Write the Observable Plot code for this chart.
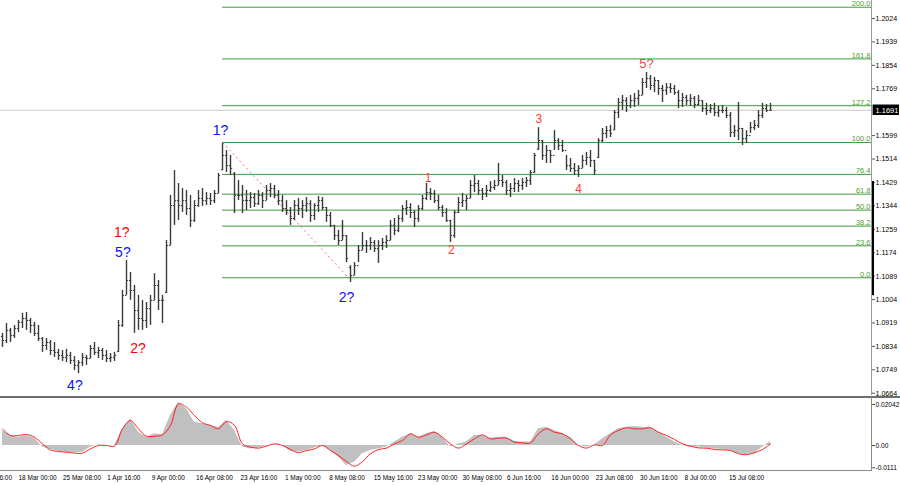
<!DOCTYPE html>
<html><head><meta charset="utf-8">
<script src="https://cdn.jsdelivr.net/npm/d3@7"></script>
<script src="https://cdn.jsdelivr.net/npm/@observablehq/plot@0.6"></script>
<style>
body{margin:0;background:#fff;}
#wrap{position:relative;width:900px;height:485px;overflow:hidden;background:#fff;}
#main,#sub{position:absolute;left:0;}
#main{top:0}#sub{top:397px}
.ln{position:absolute;}
</style></head><body>
<div id="wrap"><div id="sub"></div><div id="main"></div>
<div class="ln" style="left:871px;top:0;width:1px;height:395px;background:#9a9a9a"></div>
<div class="ln" style="left:0;top:396px;width:900px;height:2px;background:#6e6e6e"></div>
<div class="ln" style="left:871px;top:397px;width:1px;height:74px;background:#8a8a8a"></div>
<div class="ln" style="left:0;top:470px;width:872px;height:1px;background:#8a8a8a"></div>
</div>
<script>
// ---- price bars (sampled) ----
const barHigh = [
1.0881,1.0917,1.0899,1.0910,1.0928,1.0954,1.0957,1.0935,1.0921,1.0910,
1.0866,1.0863,1.0855,1.0848,1.0823,1.0819,1.0823,1.0812,1.0797,1.0783,
1.0808,1.0801,1.0837,1.0848,1.0830,1.0826,1.0819,1.0808,1.0812,1.0928,
1.1037,1.1146,1.1102,1.1055,1.1019,1.1001,1.0993,1.1019,1.1098,1.1073,
1.1019,1.1218,1.1382,1.1472,1.1425,1.1407,1.1400,1.1382,1.1363,1.1400,
1.1407,1.1392,1.1389,1.1400,1.1462,1.1570,1.1545,1.1527,1.1465,1.1436,
1.1418,1.1400,1.1392,1.1389,1.1400,1.1392,1.1418,1.1425,1.1418,1.1400,
1.1382,1.1363,1.1338,1.1363,1.1371,1.1363,1.1374,1.1363,1.1352,1.1378,
1.1374,1.1338,1.1320,1.1273,1.1255,1.1291,1.1236,1.1127,1.1138,1.1200,
1.1247,1.1218,1.1229,1.1218,1.1218,1.1226,1.1236,1.1291,1.1298,1.1309,
1.1345,1.1363,1.1352,1.1327,1.1345,1.1382,1.1425,1.1407,1.1400,1.1382,
1.1345,1.1334,1.1291,1.1327,1.1374,1.1389,1.1382,1.1436,1.1454,1.1436,
1.1407,1.1418,1.1432,1.1436,1.1498,1.1454,1.1436,1.1425,1.1443,1.1436,
1.1443,1.1447,1.1472,1.1534,1.1628,1.1581,1.1563,1.1545,1.1617,1.1588,
1.1581,1.1527,1.1516,1.1498,1.1490,1.1527,1.1538,1.1545,1.1509,1.1588,
1.1625,1.1632,1.1636,1.1690,1.1734,1.1745,1.1737,1.1745,1.1752,1.1763,
1.1806,1.1828,1.1817,1.1810,1.1799,1.1781,1.1788,1.1788,1.1781,1.1763,
1.1752,1.1745,1.1748,1.1741,1.1745,1.1726,1.1716,1.1712,1.1716,1.1705,
1.1708,1.1701,1.1683,1.1636,1.1719,1.1625,1.1617,1.1647,1.1654,1.1690,
1.1716,1.1712,1.1716];
const barLow = [
1.0830,1.0844,1.0848,1.0863,1.0884,1.0899,1.0892,1.0881,1.0870,1.0852,
1.0812,1.0819,1.0801,1.0794,1.0783,1.0779,1.0775,1.0768,1.0746,1.0735,
1.0761,1.0765,1.0790,1.0801,1.0790,1.0783,1.0775,1.0775,1.0779,1.0812,
1.0903,1.1019,1.1001,1.0881,1.0892,1.0892,1.0899,1.0910,1.1001,1.0964,
1.0917,1.1026,1.1200,1.1273,1.1291,1.1320,1.1309,1.1265,1.1284,1.1338,
1.1342,1.1345,1.1345,1.1352,1.1389,1.1472,1.1465,1.1454,1.1316,1.1363,
1.1316,1.1327,1.1334,1.1338,1.1345,1.1334,1.1363,1.1374,1.1371,1.1345,
1.1320,1.1309,1.1273,1.1291,1.1309,1.1298,1.1320,1.1284,1.1291,1.1320,
1.1327,1.1284,1.1265,1.1218,1.1200,1.1218,1.1138,1.1066,1.1091,1.1138,
1.1182,1.1171,1.1182,1.1175,1.1135,1.1182,1.1189,1.1218,1.1236,1.1247,
1.1284,1.1309,1.1298,1.1265,1.1284,1.1327,1.1363,1.1363,1.1352,1.1327,
1.1302,1.1284,1.1211,1.1226,1.1316,1.1338,1.1327,1.1371,1.1392,1.1382,
1.1363,1.1374,1.1392,1.1400,1.1418,1.1411,1.1382,1.1374,1.1392,1.1392,
1.1400,1.1411,1.1418,1.1462,1.1545,1.1509,1.1498,1.1498,1.1545,1.1545,
1.1538,1.1472,1.1465,1.1454,1.1447,1.1480,1.1490,1.1483,1.1454,1.1516,
1.1574,1.1588,1.1592,1.1617,1.1661,1.1690,1.1683,1.1697,1.1701,1.1708,
1.1745,1.1770,1.1763,1.1755,1.1745,1.1719,1.1745,1.1752,1.1745,1.1697,
1.1701,1.1708,1.1705,1.1697,1.1705,1.1683,1.1672,1.1679,1.1668,1.1665,
1.1679,1.1661,1.1592,1.1592,1.1581,1.1563,1.1570,1.1607,1.1617,1.1625,
1.1661,1.1683,1.1690];
const barOpen = [
1.0870,1.0855,1.0892,1.0873,1.0899,1.0921,1.0935,1.0928,1.0910,1.0881,
1.0863,1.0837,1.0848,1.0819,1.0812,1.0801,1.0794,1.0801,1.0783,1.0765,
1.0775,1.0794,1.0790,1.0826,1.0812,1.0819,1.0801,1.0790,1.0794,1.0815,
1.0910,1.1019,1.1073,1.1037,1.0964,1.0935,1.0928,1.0971,1.1001,1.1055,
1.1001,1.1030,1.1200,1.1345,1.1363,1.1345,1.1363,1.1334,1.1291,1.1345,
1.1371,1.1363,1.1371,1.1363,1.1389,1.1475,1.1527,1.1490,1.1460,1.1382,
1.1382,1.1363,1.1363,1.1374,1.1352,1.1382,1.1363,1.1400,1.1407,1.1382,
1.1363,1.1334,1.1327,1.1298,1.1345,1.1334,1.1345,1.1352,1.1309,1.1345,
1.1363,1.1338,1.1309,1.1273,1.1236,1.1218,1.1236,1.1120,1.1091,1.1127,
1.1182,1.1200,1.1200,1.1211,1.1189,1.1200,1.1211,1.1218,1.1273,1.1255,
1.1298,1.1334,1.1338,1.1320,1.1298,1.1334,1.1371,1.1392,1.1389,1.1363,
1.1338,1.1320,1.1291,1.1236,1.1320,1.1356,1.1363,1.1371,1.1418,1.1425,
1.1400,1.1389,1.1400,1.1411,1.1418,1.1436,1.1429,1.1400,1.1407,1.1425,
1.1418,1.1429,1.1436,1.1465,1.1550,1.1581,1.1527,1.1545,1.1527,1.1581,
1.1563,1.1545,1.1490,1.1480,1.1472,1.1480,1.1509,1.1520,1.1509,1.1520,
1.1581,1.1607,1.1617,1.1620,1.1683,1.1719,1.1726,1.1708,1.1726,1.1734,
1.1745,1.1792,1.1806,1.1781,1.1799,1.1770,1.1763,1.1774,1.1770,1.1755,
1.1726,1.1737,1.1726,1.1734,1.1712,1.1726,1.1697,1.1690,1.1697,1.1683,
1.1690,1.1690,1.1672,1.1610,1.1617,1.1625,1.1588,1.1599,1.1628,1.1636,
1.1672,1.1697,1.1690];
const barClose = [
1.0855,1.0892,1.0873,1.0899,1.0921,1.0935,1.0928,1.0910,1.0881,1.0863,
1.0837,1.0848,1.0819,1.0812,1.0801,1.0794,1.0801,1.0783,1.0765,1.0775,
1.0794,1.0790,1.0826,1.0812,1.0819,1.0801,1.0790,1.0794,1.0801,1.0910,
1.1019,1.1073,1.1037,1.0964,1.0935,1.0928,1.0971,1.1001,1.1055,1.1001,
1.1001,1.1200,1.1345,1.1363,1.1345,1.1363,1.1334,1.1291,1.1345,1.1371,
1.1363,1.1371,1.1363,1.1389,1.1454,1.1527,1.1490,1.1480,1.1382,1.1382,
1.1363,1.1363,1.1374,1.1352,1.1382,1.1363,1.1400,1.1407,1.1382,1.1363,
1.1334,1.1327,1.1298,1.1345,1.1334,1.1345,1.1352,1.1309,1.1345,1.1363,
1.1338,1.1309,1.1273,1.1236,1.1218,1.1236,1.1153,1.1091,1.1127,1.1182,
1.1200,1.1200,1.1211,1.1189,1.1200,1.1211,1.1218,1.1273,1.1255,1.1298,
1.1334,1.1338,1.1320,1.1298,1.1334,1.1371,1.1392,1.1389,1.1363,1.1338,
1.1320,1.1291,1.1236,1.1320,1.1356,1.1363,1.1371,1.1418,1.1425,1.1400,
1.1389,1.1400,1.1411,1.1418,1.1436,1.1429,1.1400,1.1407,1.1425,1.1418,
1.1429,1.1436,1.1465,1.1527,1.1581,1.1527,1.1545,1.1527,1.1581,1.1563,
1.1545,1.1490,1.1480,1.1472,1.1480,1.1509,1.1520,1.1509,1.1472,1.1581,
1.1607,1.1617,1.1607,1.1683,1.1719,1.1726,1.1708,1.1726,1.1734,1.1745,
1.1792,1.1806,1.1781,1.1799,1.1770,1.1763,1.1774,1.1770,1.1755,1.1726,
1.1737,1.1726,1.1734,1.1712,1.1726,1.1697,1.1690,1.1697,1.1683,1.1690,
1.1690,1.1672,1.1610,1.1617,1.1625,1.1588,1.1599,1.1628,1.1636,1.1672,
1.1697,1.1690,1.1691];

// ---- MACD (every second sample) ----
const macdHist = [
0.0075,0.0050,0.0041,0.0050,0.0036,-0.0008,-0.0020,-0.0030,-0.0033,-0.0036,
-0.0033,-0.0008,0.0003,0.0000,0.0000,0.0083,0.0133,0.0066,0.0041,0.0058,
0.0053,0.0149,0.0216,0.0183,0.0116,0.0108,0.0100,0.0091,0.0124,0.0075,
-0.0008,-0.0017,-0.0013,-0.0003,0.0003,0.0000,-0.0030,-0.0033,-0.0025,-0.0013,
-0.0003,-0.0025,-0.0058,-0.0100,-0.0083,-0.0041,-0.0025,-0.0017,-0.0008,0.0017,
0.0041,0.0058,0.0041,0.0058,0.0070,0.0041,-0.0008,0.0008,0.0017,0.0050,
0.0050,0.0036,0.0041,0.0041,0.0020,0.0017,0.0017,0.0083,0.0091,0.0075,
0.0058,0.0041,0.0000,-0.0008,0.0003,0.0033,0.0058,0.0083,0.0091,0.0095,
0.0091,0.0091,0.0066,0.0041,0.0017,0.0000,-0.0008,-0.0008,-0.0013,-0.0017,
-0.0020,-0.0025,-0.0041,-0.0046,-0.0041,-0.0008,0.0020];
const macdSignal = [
0.0083,0.0050,0.0050,0.0055,0.0041,0.0008,-0.0022,-0.0030,-0.0033,-0.0038,
-0.0038,-0.0017,0.0000,0.0000,-0.0003,0.0083,0.0124,0.0083,0.0046,0.0046,
0.0053,0.0100,0.0207,0.0191,0.0149,0.0113,0.0100,0.0083,0.0119,0.0100,
0.0008,-0.0008,-0.0013,-0.0003,0.0008,0.0000,-0.0020,-0.0036,-0.0025,-0.0017,
0.0000,-0.0025,-0.0050,-0.0080,-0.0103,-0.0080,-0.0041,-0.0020,-0.0013,0.0008,
0.0025,0.0058,0.0041,0.0053,0.0066,0.0041,0.0008,-0.0013,0.0008,0.0033,
0.0053,0.0033,0.0036,0.0036,0.0017,0.0013,0.0013,0.0058,0.0083,0.0066,
0.0058,0.0033,0.0000,-0.0013,0.0003,0.0000,0.0053,0.0075,0.0088,0.0083,
0.0083,0.0088,0.0066,0.0050,0.0030,0.0008,-0.0003,-0.0012,-0.0013,-0.0020,
-0.0022,-0.0025,-0.0041,-0.0046,-0.0036,-0.0020,0.0008];

// ---- axes / annotations ----
const priceTicks = [1.2024,1.1939,1.1854,1.1769,1.1599,1.1514,1.1429,1.1344,1.1259,1.1174,1.1089,1.1004,1.0919,1.0834,1.0749,1.0664];
const lastPrice = 1.1691;
const scaleMarker = [1.1018, 1.1432];
const macdTicks = [0.02042, 0, -0.0111];
const macdTickLabels = ["0.02042", "0.00", "-0.0111"];
const dateTickBars = [-7.05,4,15.1,26.2,37.3,48.4,59.5,70.6,81.7,92.8,103.9,115,126.1,137.2,148.3,159.4,170.5,181.6];
const dateLabels = ["11 Mar 16:00","18 Mar 00:00","25 Mar 08:00","1 Apr 16:00","9 Apr 00:00","16 Apr 08:00","23 Apr 16:00","1 May 00:00","8 May 08:00","15 May 16:00","23 May 00:00","30 May 08:00","6 Jun 16:00","16 Jun 00:00","23 Jun 08:00","30 Jun 16:00","8 Jul 00:00","15 Jul 08:00"];
const fibRatios = [0, 23.6, 38.2, 50, 61.8, 76.4, 100, 127.2, 161.8, 200];
const fibHigh = 1.1574, fibLow = 1.1083, fibStartBar = 55, fibEndBar = 86.5;
const waveText  = ["4?","5?","1?","2?","1?","2?","1","2","3","4","5?"];
const waveBar   = [18.1,30.1,29.8,33.9,54.5,86,106.4,112.2,134.1,144,161];
const wavePrice = [1.0692,1.1173,1.1247,1.0826,1.1616,1.1011,1.1445,1.1182,1.1657,1.1403,1.1859];
const waveColor = ["blue","blue","red","red","blue","blue","lightred","lightred","lightred","lightred","lightred"];
const waveSize  = [14,14,14,14,14,14,12,12,12,12,13];

const bars = barHigh.map((h, i) => ({i, h, l: barLow[i], o: barOpen[i], c: barClose[i]}));
const macd = macdHist.map((h, k) => ({x: 2 * k, h, s: macdSignal[k]}));
const waves = waveText.map((t, k) => ({t, x: waveBar[k], y: wavePrice[k], c: waveColor[k], s: waveSize[k]}));
const fibs = fibRatios.map(r => ({r, p: fibLow + r / 100 * (fibHigh - fibLow)}));

const colorMap = {blue: "#0f0fff", red: "#ff0000", lightred: "#ff3a3a"};
const xDomain = [-0.5, 217.25];
const sans = "'Liberation Sans',Arial,sans-serif";
const barColor = "#3a3a3a";

const main = Plot.plot({
  width: 900, height: 398,
  marginLeft: 0, marginRight: 29, marginTop: 0, marginBottom: 3,
  x: {domain: xDomain, axis: null},
  y: {domain: [1.06556, 1.20894], axis: null},
  style: {fontFamily: sans, fontSize: "7.5px", background: "transparent", color: "#000"},
  marks: [
    Plot.ruleY([lastPrice], {stroke: "#c8c8c8"}),
    Plot.ruleY(fibs, {y: "p", x1: fibStartBar, x2: xDomain[1], stroke: "#3c9c3c"}),
    Plot.text(fibs, {x: xDomain[1], y: "p", text: d => d.r.toFixed(1), textAnchor: "end", lineAnchor: "bottom", dx: -1, dy: -1, fill: "#4e9e2e", fontSize: 7.5, ariaLabel: "fib-label"}),
    Plot.link([0], {x1: fibStartBar, y1: fibHigh, x2: fibEndBar, y2: fibLow, stroke: "#ff6a6a", strokeDasharray: "2,3"}),
    Plot.ruleX(bars, {x: "i", y1: "l", y2: "h", stroke: barColor, strokeWidth: 1.4}),
    Plot.link(bars, {x1: d => d.i - 0.4, x2: "i", y1: "o", y2: "o", stroke: barColor, strokeWidth: 1}),
    Plot.link(bars, {x1: "i", x2: d => d.i + 0.4, y1: "c", y2: "c", stroke: barColor, strokeWidth: 1}),
    Plot.text(waves, {x: "x", y: "y", text: "t", fill: d => colorMap[d.c], fontSize: "s"}),
    Plot.axisY({ticks: priceTicks, anchor: "right", label: null, tickSize: 3, tickPadding: 1, tickFormat: d => d.toFixed(4), stroke: "#555", fontSize: 7.5}),
    Plot.ruleX([xDomain[1]], {y1: scaleMarker[0], y2: scaleMarker[1], stroke: "#000", strokeWidth: 3, dx: 1}),
    Plot.rect([lastPrice], {x1: xDomain[1] + 0.4, x2: xDomain[1] + 7, y1: d => d - 0.0019, y2: d => d + 0.0019, fill: "#000"}),
    Plot.text([lastPrice], {x: xDomain[1], y: d => d, text: d => d.toFixed(4), textAnchor: "start", dx: 4, fill: "#fff", fontSize: 7.5, ariaLabel: "last-price"})
  ]
});
document.getElementById("main").appendChild(main);

const sub = Plot.plot({
  width: 900, height: 88,
  marginLeft: 0, marginRight: 29, marginTop: 0, marginBottom: 15,
  x: {domain: xDomain, axis: null},
  y: {domain: [-0.01245, 0.023904], axis: null},
  style: {fontFamily: sans, fontSize: "7.5px", background: "transparent", color: "#000"},
  marks: [
    Plot.areaY(macd, {x: "x", y: "h", fill: "#c0c0c0"}),
    Plot.line(macd, {x: "x", y: "s", stroke: "#ff1e1e", strokeWidth: 1, curve: "catmull-rom"}),
    Plot.axisY({ticks: macdTicks, anchor: "right", label: null, tickSize: 3, tickPadding: 1, tickFormat: d => macdTickLabels[macdTicks.indexOf(d)], stroke: "#555", fontSize: 6.8}),
    Plot.axisX({ticks: dateTickBars, anchor: "bottom", label: null, tickSize: 0, tickPadding: 4, textAnchor: "start", tickFormat: d => dateLabels[dateTickBars.indexOf(d)], fontSize: 8})
  ]
});
document.getElementById("sub").appendChild(sub);

// narrow the small MT4-style label texts horizontally (glyph compression only)
function squeeze(svg, selector, k) {
  svg.querySelectorAll(selector).forEach(t => {
    const w = t.getComputedTextLength();
    if (w > 0) {
      t.setAttribute("textLength", (w * k).toFixed(2));
      t.setAttribute("lengthAdjust", "spacingAndGlyphs");
    }
  });
}
squeeze(main, 'g[aria-label="y-axis tick label"] text', 0.94);
squeeze(main, 'g[aria-label="fib-label"] text', 0.84);
squeeze(main, 'g[aria-label="last-price"] text', 0.94);
squeeze(sub, 'g[aria-label="y-axis tick label"] text', 0.97);
squeeze(sub, 'g[aria-label="x-axis tick label"] text', 0.81);
</script>
</body></html>
